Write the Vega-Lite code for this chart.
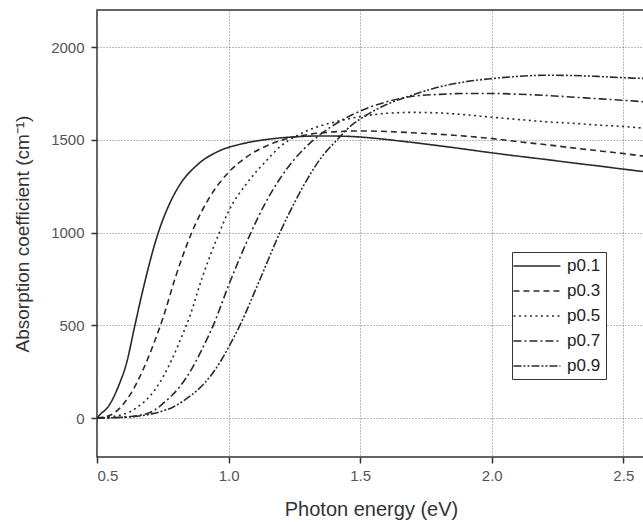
{
  "$schema": "https://vega.github.io/schema/vega-lite/v6.json",
  "autosize": "none",
  "padding": {"left": 97, "top": 10, "right": 0, "bottom": 65},
  "width": 548,
  "height": 447,
  "background": "white",
  "config": {
    "font": "Liberation Sans",
    "view": {"stroke": "#333", "strokeWidth": 1.5},
    "axis": {
      "domain": false,
      "tickColor": "#333",
      "tickSize": 6,
      "tickWidth": 1.5,
      "gridColor": "#777",
      "gridDash": [1, 2],
      "gridWidth": 1,
      "labelFont": "Liberation Sans",
      "labelFontSize": 15,
      "labelColor": "#555",
      "titleFont": "Liberation Sans",
      "titleFontSize": 19,
      "titleFontWeight": "normal",
      "titleColor": "#333"
    }
  },
  "data": {
    "values": [
      {"x": 0.5, "y": 0, "s": "p0.1"},
      {"x": 0.511, "y": 18, "s": "p0.1"},
      {"x": 0.543, "y": 62, "s": "p0.1"},
      {"x": 0.581, "y": 170, "s": "p0.1"},
      {"x": 0.613, "y": 300, "s": "p0.1"},
      {"x": 0.644, "y": 500, "s": "p0.1"},
      {"x": 0.67, "y": 664, "s": "p0.1"},
      {"x": 0.733, "y": 1000, "s": "p0.1"},
      {"x": 0.784, "y": 1180, "s": "p0.1"},
      {"x": 0.809, "y": 1245, "s": "p0.1"},
      {"x": 0.885, "y": 1370, "s": "p0.1"},
      {"x": 0.961, "y": 1438, "s": "p0.1"},
      {"x": 1.05, "y": 1478, "s": "p0.1"},
      {"x": 1.15, "y": 1503, "s": "p0.1"},
      {"x": 1.25, "y": 1516, "s": "p0.1"},
      {"x": 1.35, "y": 1521, "s": "p0.1"},
      {"x": 1.45, "y": 1519, "s": "p0.1"},
      {"x": 1.55, "y": 1509, "s": "p0.1"},
      {"x": 1.65, "y": 1494, "s": "p0.1"},
      {"x": 1.75, "y": 1477, "s": "p0.1"},
      {"x": 1.85, "y": 1459, "s": "p0.1"},
      {"x": 2.0, "y": 1430, "s": "p0.1"},
      {"x": 2.1, "y": 1412, "s": "p0.1"},
      {"x": 2.2, "y": 1395, "s": "p0.1"},
      {"x": 2.3, "y": 1377, "s": "p0.1"},
      {"x": 2.4, "y": 1360, "s": "p0.1"},
      {"x": 2.5, "y": 1342, "s": "p0.1"},
      {"x": 2.6, "y": 1325, "s": "p0.1"},

      {"x": 0.5, "y": 0, "s": "p0.3"},
      {"x": 0.55, "y": 15, "s": "p0.3"},
      {"x": 0.594, "y": 65, "s": "p0.3"},
      {"x": 0.632, "y": 140, "s": "p0.3"},
      {"x": 0.67, "y": 245, "s": "p0.3"},
      {"x": 0.714, "y": 395, "s": "p0.3"},
      {"x": 0.752, "y": 545, "s": "p0.3"},
      {"x": 0.796, "y": 750, "s": "p0.3"},
      {"x": 0.86, "y": 1000, "s": "p0.3"},
      {"x": 0.93, "y": 1195, "s": "p0.3"},
      {"x": 1.0, "y": 1325, "s": "p0.3"},
      {"x": 1.069, "y": 1408, "s": "p0.3"},
      {"x": 1.183, "y": 1489, "s": "p0.3"},
      {"x": 1.3, "y": 1528, "s": "p0.3"},
      {"x": 1.4, "y": 1543, "s": "p0.3"},
      {"x": 1.5, "y": 1548, "s": "p0.3"},
      {"x": 1.6, "y": 1545, "s": "p0.3"},
      {"x": 1.7, "y": 1538, "s": "p0.3"},
      {"x": 1.8, "y": 1530, "s": "p0.3"},
      {"x": 1.9, "y": 1520, "s": "p0.3"},
      {"x": 2.0, "y": 1507, "s": "p0.3"},
      {"x": 2.1, "y": 1490, "s": "p0.3"},
      {"x": 2.2, "y": 1475, "s": "p0.3"},
      {"x": 2.3, "y": 1458, "s": "p0.3"},
      {"x": 2.4, "y": 1442, "s": "p0.3"},
      {"x": 2.5, "y": 1426, "s": "p0.3"},
      {"x": 2.6, "y": 1408, "s": "p0.3"},

      {"x": 0.5, "y": 0, "s": "p0.5"},
      {"x": 0.6, "y": 20, "s": "p0.5"},
      {"x": 0.65, "y": 55, "s": "p0.5"},
      {"x": 0.72, "y": 152, "s": "p0.5"},
      {"x": 0.752, "y": 224, "s": "p0.5"},
      {"x": 0.784, "y": 314, "s": "p0.5"},
      {"x": 0.822, "y": 439, "s": "p0.5"},
      {"x": 0.853, "y": 550, "s": "p0.5"},
      {"x": 0.898, "y": 750, "s": "p0.5"},
      {"x": 0.965, "y": 1000, "s": "p0.5"},
      {"x": 1.0, "y": 1115, "s": "p0.5"},
      {"x": 1.069, "y": 1265, "s": "p0.5"},
      {"x": 1.145, "y": 1390, "s": "p0.5"},
      {"x": 1.195, "y": 1462, "s": "p0.5"},
      {"x": 1.25, "y": 1515, "s": "p0.5"},
      {"x": 1.3, "y": 1550, "s": "p0.5"},
      {"x": 1.4, "y": 1595, "s": "p0.5"},
      {"x": 1.5, "y": 1625, "s": "p0.5"},
      {"x": 1.6, "y": 1643, "s": "p0.5"},
      {"x": 1.7, "y": 1648, "s": "p0.5"},
      {"x": 1.8, "y": 1645, "s": "p0.5"},
      {"x": 1.9, "y": 1635, "s": "p0.5"},
      {"x": 2.0, "y": 1622, "s": "p0.5"},
      {"x": 2.1, "y": 1610, "s": "p0.5"},
      {"x": 2.2, "y": 1598, "s": "p0.5"},
      {"x": 2.3, "y": 1590, "s": "p0.5"},
      {"x": 2.4, "y": 1580, "s": "p0.5"},
      {"x": 2.5, "y": 1572, "s": "p0.5"},
      {"x": 2.6, "y": 1560, "s": "p0.5"},

      {"x": 0.5, "y": 0, "s": "p0.7"},
      {"x": 0.6, "y": 5, "s": "p0.7"},
      {"x": 0.65, "y": 12, "s": "p0.7"},
      {"x": 0.714, "y": 38, "s": "p0.7"},
      {"x": 0.752, "y": 80, "s": "p0.7"},
      {"x": 0.815, "y": 170, "s": "p0.7"},
      {"x": 0.86, "y": 265, "s": "p0.7"},
      {"x": 0.904, "y": 385, "s": "p0.7"},
      {"x": 0.942, "y": 500, "s": "p0.7"},
      {"x": 1.0, "y": 715, "s": "p0.7"},
      {"x": 1.085, "y": 1000, "s": "p0.7"},
      {"x": 1.14, "y": 1160, "s": "p0.7"},
      {"x": 1.195, "y": 1290, "s": "p0.7"},
      {"x": 1.25, "y": 1395, "s": "p0.7"},
      {"x": 1.322, "y": 1498, "s": "p0.7"},
      {"x": 1.4, "y": 1580, "s": "p0.7"},
      {"x": 1.5, "y": 1655, "s": "p0.7"},
      {"x": 1.6, "y": 1705, "s": "p0.7"},
      {"x": 1.7, "y": 1735, "s": "p0.7"},
      {"x": 1.8, "y": 1745, "s": "p0.7"},
      {"x": 1.9, "y": 1750, "s": "p0.7"},
      {"x": 2.0, "y": 1750, "s": "p0.7"},
      {"x": 2.1, "y": 1746, "s": "p0.7"},
      {"x": 2.2, "y": 1740, "s": "p0.7"},
      {"x": 2.3, "y": 1731, "s": "p0.7"},
      {"x": 2.4, "y": 1722, "s": "p0.7"},
      {"x": 2.5, "y": 1713, "s": "p0.7"},
      {"x": 2.6, "y": 1703, "s": "p0.7"},

      {"x": 0.5, "y": 0, "s": "p0.9"},
      {"x": 0.6, "y": 4, "s": "p0.9"},
      {"x": 0.7, "y": 20, "s": "p0.9"},
      {"x": 0.74, "y": 34, "s": "p0.9"},
      {"x": 0.79, "y": 60, "s": "p0.9"},
      {"x": 0.834, "y": 98, "s": "p0.9"},
      {"x": 0.885, "y": 155, "s": "p0.9"},
      {"x": 0.936, "y": 235, "s": "p0.9"},
      {"x": 0.967, "y": 300, "s": "p0.9"},
      {"x": 1.005, "y": 395, "s": "p0.9"},
      {"x": 1.043, "y": 500, "s": "p0.9"},
      {"x": 1.12, "y": 750, "s": "p0.9"},
      {"x": 1.195, "y": 1000, "s": "p0.9"},
      {"x": 1.25, "y": 1160, "s": "p0.9"},
      {"x": 1.3, "y": 1290, "s": "p0.9"},
      {"x": 1.35, "y": 1400, "s": "p0.9"},
      {"x": 1.411, "y": 1498, "s": "p0.9"},
      {"x": 1.46, "y": 1570, "s": "p0.9"},
      {"x": 1.52, "y": 1630, "s": "p0.9"},
      {"x": 1.6, "y": 1690, "s": "p0.9"},
      {"x": 1.7, "y": 1742, "s": "p0.9"},
      {"x": 1.8, "y": 1785, "s": "p0.9"},
      {"x": 1.9, "y": 1813, "s": "p0.9"},
      {"x": 2.0, "y": 1830, "s": "p0.9"},
      {"x": 2.1, "y": 1842, "s": "p0.9"},
      {"x": 2.2, "y": 1848, "s": "p0.9"},
      {"x": 2.3, "y": 1847, "s": "p0.9"},
      {"x": 2.4, "y": 1842, "s": "p0.9"},
      {"x": 2.5, "y": 1835, "s": "p0.9"},
      {"x": 2.6, "y": 1830, "s": "p0.9"}
    ]
  },
  "mark": {"type": "line", "interpolate": "monotone", "strokeWidth": 1.6, "color": "#2a2a2a", "clip": true},
  "encoding": {
    "x": {
      "field": "x", "type": "quantitative",
      "scale": {"domain": [0.5, 2.5825], "nice": false, "zero": false},
      "axis": {
        "title": "Photon energy (eV)",
        "titleFontSize": 20,
        "values": [0.5, 1.0, 1.5, 2.0, 2.5],
        "format": ".1f",
        "labelPadding": 5,
        "titlePadding": 16
      }
    },
    "y": {
      "field": "y", "type": "quantitative",
      "scale": {"domain": [-210, 2200], "nice": false, "zero": false},
      "axis": {
        "title": "Absorption coefficient (cm⁻¹)",
        "values": [0, 500, 1000, 1500, 2000],
        "format": "d",
        "labelPadding": 7,
        "titlePadding": 18
      }
    },
    "strokeDash": {
      "field": "s", "type": "nominal",
      "scale": {
        "domain": ["p0.1", "p0.3", "p0.5", "p0.7", "p0.9"],
        "range": [[1, 0], [6, 4], [2, 3.5], [8, 3, 2, 3], [8, 2, 2, 2, 2, 2]]
      },
      "legend": {
        "title": null,
        "orient": "none",
        "legendX": 415,
        "legendY": 242,
        "symbolType": "M-1.6,0H4.4",
        "symbolSize": 245,
        "symbolStrokeWidth": 1.6,
        "symbolStrokeColor": "#2a2a2a",
        "labelFontSize": 17,
        "labelColor": "#222",
        "labelOffset": 32,
        "rowPadding": 8,
        "padding": 5,
        "strokeColor": "#333",
        "fillColor": "white"
      }
    }
  }
}
